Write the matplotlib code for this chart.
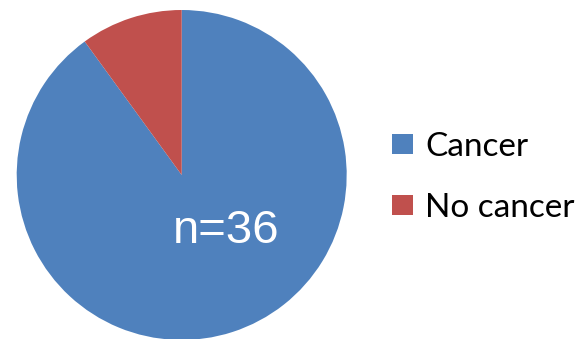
import matplotlib
matplotlib.use("Agg")
import matplotlib.pyplot as plt

categories = ["Cancer", "No cancer"]
values = [90, 10]
colors = ["#4F81BD", "#C0504D"]
label_text = "n=36"

W, H = 580, 339
fig = plt.figure(figsize=(W / 100, H / 100), dpi=100)

cx, cy, r = 181.7, 339 - 175, 165
ax = fig.add_axes([(cx - r) / W, (cy - r) / H, 2 * r / W, 2 * r / H])
wedges, _ = ax.pie(values, colors=colors, startangle=90, counterclock=False,
                   radius=1, wedgeprops=dict(linewidth=0))
ax.set_xlim(-1, 1)
ax.set_ylim(-1, 1)
ax.set_aspect("equal")
ax.axis("off")

fig.text(225.8 / W, 1 - 231 / H, label_text, color="white", fontsize=34,
         family="Liberation Sans", ha="center", va="center")

leg = fig.legend(wedges, categories, loc="upper left",
                 bbox_to_anchor=(392 / W, 1 - 132 / H),
                 frameon=False, prop=dict(family="Lato", size=24),
                 handlelength=0.63, handleheight=0.57, handletextpad=0.36,
                 labelspacing=0.92, borderpad=0, borderaxespad=0)

fig.savefig("out.png", dpi=100)
